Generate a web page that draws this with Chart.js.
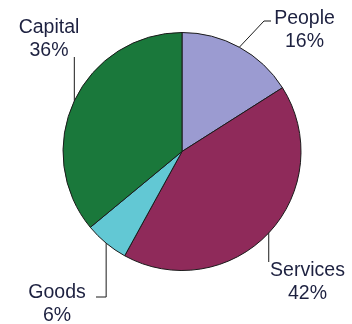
<!DOCTYPE html>
<html>
<head>
<meta charset="utf-8">
<script src="https://cdn.jsdelivr.net/npm/chart.js@4/dist/chart.umd.min.js"></script>
<style>
  html, body { margin: 0; padding: 0; background: #ffffff; }
  #wrap { width: 352px; height: 324px; position: relative; }
</style>
</head>
<body>
<div id="wrap"><canvas id="pie"></canvas></div>
<script>
// Share of spending by category (percent)
const categories = ['People', 'Services', 'Goods', 'Capital'];
const shares = [16, 42, 6, 36];
const sliceColors = ['#9b9bd1', '#8f2a5a', '#62c8d4', '#1a783b'];

// Label placement: text centre, first baseline, and the bend points of each leader line
const labelLayout = [
  { cx: 304.5, base: 24,  path: [[264, 21], [271, 21]] },
  { cx: 307.5, base: 276, path: [['arc', 262]] },
  { cx: 57,    base: 298, path: [['arc', 297], [96, 297]] },
  { cx: 49,    base: 33,  path: [['arc', 57]] }
];

const calloutPlugin = {
  id: 'callouts',
  afterDatasetsDraw(chart) {
    const ctx = chart.ctx;
    const meta = chart.getDatasetMeta(0);
    const total = shares.reduce((a, b) => a + b, 0);
    ctx.save();
    meta.data.forEach((arc, i) => {
      const p = arc.getProps(['x', 'y', 'startAngle', 'endAngle', 'outerRadius'], true);
      const mid = (p.startAngle + p.endAngle) / 2;
      const sx = p.x + Math.cos(mid) * p.outerRadius;
      const sy = p.y + Math.sin(mid) * p.outerRadius;
      const lay = labelLayout[i];
      ctx.strokeStyle = '#1a1a1a';
      ctx.lineWidth = 1;
      ctx.beginPath();
      ctx.moveTo(sx, sy);
      lay.path.forEach(pt => {
        const x = pt[0] === 'arc' ? sx : pt[0];
        ctx.lineTo(x, pt[1]);
      });
      ctx.stroke();

      ctx.fillStyle = '#1d2140';
      ctx.font = '19.5px "Liberation Sans", Arial, sans-serif';
      ctx.textAlign = 'center';
      ctx.textBaseline = 'alphabetic';
      const pct = Math.round(shares[i] / total * 100) + '%';
      ctx.fillText(categories[i], lay.cx, lay.base);
      ctx.fillText(pct, lay.cx, lay.base + 23);
    });
    ctx.restore();
  }
};

new Chart(document.getElementById('pie'), {
  type: 'pie',
  data: {
    labels: categories,
    datasets: [{
      data: shares,
      backgroundColor: sliceColors,
      borderColor: '#1a1a1a',
      borderWidth: 1,
      borderAlign: 'center'
    }]
  },
  options: {
    responsive: true,
    maintainAspectRatio: false,
    animation: false,
    events: [],
    layout: { padding: { top: 32, bottom: 53, left: 40, right: 28 } },
    plugins: {
      legend: { display: false },
      tooltip: { enabled: false }
    }
  },
  plugins: [calloutPlugin]
});
</script>
</body>
</html>
